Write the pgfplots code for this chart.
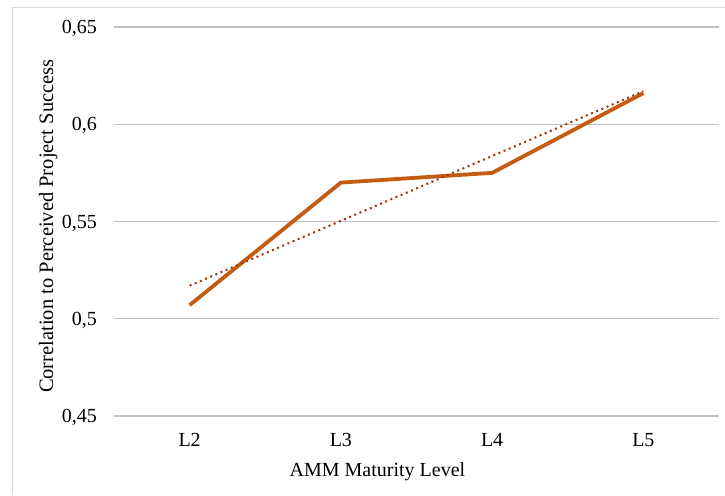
\documentclass[border=0pt]{standalone}
\usepackage{pgfplots}
\pgfplotsset{compat=1.18}
\usepackage{fontspec}
\setmainfont{Liberation Serif}
\definecolor{lineor}{RGB}{197,90,17}
\definecolor{trendc}{RGB}{158,52,18}
\definecolor{gridc}{RGB}{191,191,191}
\definecolor{framec}{RGB}{217,217,217}
\begin{document}
\fontsize{20pt}{24pt}\selectfont
\begin{tikzpicture}[font=\fontsize{20pt}{24pt}\selectfont]
\useasboundingbox (0,0) rectangle (725pt,495pt);
\draw[framec, line width=1pt] (12pt,0) -- (12pt,487pt) -- (725pt,487pt);
\begin{axis}[
  at={(114pt,79pt)}, anchor=south west,
  scale only axis, width=605pt, height=389pt,
  xmin=-0.5, xmax=3.5, ymin=0.45, ymax=0.65,
  xtick={0,1,2,3}, xticklabels={L2,L3,L4,L5},
  ytick={0.45,0.5,0.55,0.6,0.65},
  yticklabels={{0,45},{0,5},{0,55},{0,6},{0,65}},
  axis line style={draw=none},
  major tick length=0pt,
  tick style={draw=none},
  ymajorgrids, grid style={gridc, line width=1.4pt},
  tick label style={font=\fontsize{20pt}{24pt}\selectfont},
  yticklabel style={anchor=base east, inner sep=0pt, xshift=-17pt, yshift=-6.6pt},
  xticklabel style={anchor=base, inner sep=0pt, yshift=-31pt},
  xlabel={AMM Maturity Level},
  ylabel={Correlation to Perceived Project Success},
  label style={inner sep=0pt},
  xlabel style={font=\fontsize{20pt}{24pt}\selectfont, at={(axis description cs:0.4355,0)}, anchor=base, yshift=-61pt},
  ylabel style={font=\fontsize{20.5pt}{24pt}\selectfont, at={(axis description cs:-0.1008,0.488)}, rotate=0, anchor=base},
  clip=false,
]
\addplot[lineor, line width=3.8pt, line join=round] coordinates {(0,0.507) (1,0.570) (2,0.575) (3,0.616)};
\addplot[trendc, line width=2pt, dash pattern=on 2pt off 3.6pt] coordinates {(0,0.517) (3,0.617)};
\end{axis}
\end{tikzpicture}
\end{document}
